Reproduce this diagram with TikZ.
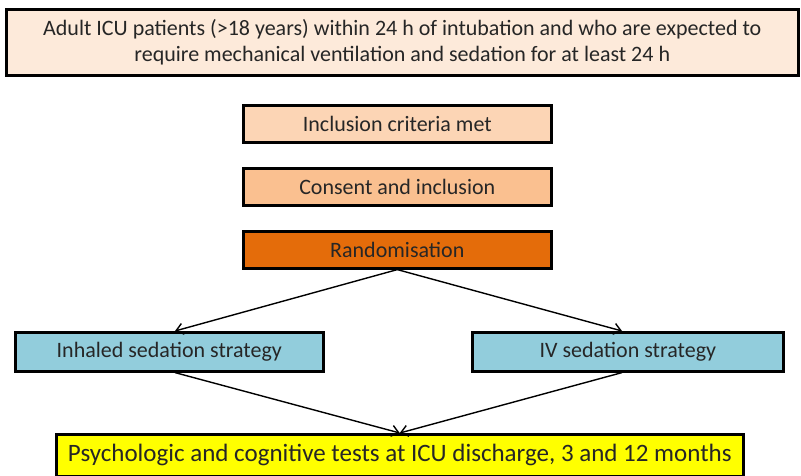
\documentclass[tikz,border=0pt]{standalone}
\usepackage{fontspec}
\setmainfont{Carlito}
\usetikzlibrary{arrows.meta}
\definecolor{cTop}{RGB}{253,234,218}
\definecolor{cInc}{RGB}{252,213,181}
\definecolor{cCon}{RGB}{250,192,144}
\definecolor{cRand}{RGB}{228,108,10}
\definecolor{cBlue}{RGB}{146,205,220}
\definecolor{cYel}{RGB}{255,255,0}
\begin{document}
\begin{tikzpicture}[x=1pt,y=-1pt,
  box/.style={draw=black,line width=2.6pt,inner sep=0pt,anchor=north west,text=black!85},
  mid/.style={font=\fontsize{22}{24}\selectfont},
  conn/.style={line width=1.4pt,-{Straight Barb[length=7pt,width=11pt,line width=1.4pt]}}]
\useasboundingbox (0,0) rectangle (801,476);
\node[box,fill=cTop,minimum width=792pt,minimum height=66pt,align=center,font=\fontsize{22}{26}\selectfont] (top) at (5,8)
  {Adult ICU patients (>18 years) within 24 h of intubation and who are expected to\\require mechanical ventilation and sedation for at least 24 h};
\node[box,mid,fill=cInc,minimum width=308pt,minimum height=37pt] (inc) at (242,104) {Inclusion criteria met};
\node[box,mid,fill=cCon,minimum width=308pt,minimum height=37pt] (con) at (242,167) {Consent and inclusion};
\node[box,mid,fill=cRand,minimum width=308pt,minimum height=37pt] (rand) at (242,230) {Randomisation};
\node[box,mid,fill=cBlue,minimum width=308pt,minimum height=39pt] (inh) at (14,331) {Inhaled sedation strategy};
\node[box,mid,fill=cBlue,minimum width=311pt,minimum height=39pt] (iv) at (471,331) {IV sedation strategy};
\node[box,fill=cYel,minimum width=687pt,minimum height=42pt,font=\fontsize{25}{28}\selectfont] (out) at (55,433) {Psychologic and cognitive tests at ICU discharge, 3 and 12 months};
\draw[conn] (rand.south) -- (inh.north -| 175,0);
\draw[conn] (rand.south) -- (iv.north -| 622,0);
\draw[conn] (inh.south -| 175,0) -- (out.north);
\draw[conn] (iv.south -| 622,0) -- (out.north);
\end{tikzpicture}
\end{document}
